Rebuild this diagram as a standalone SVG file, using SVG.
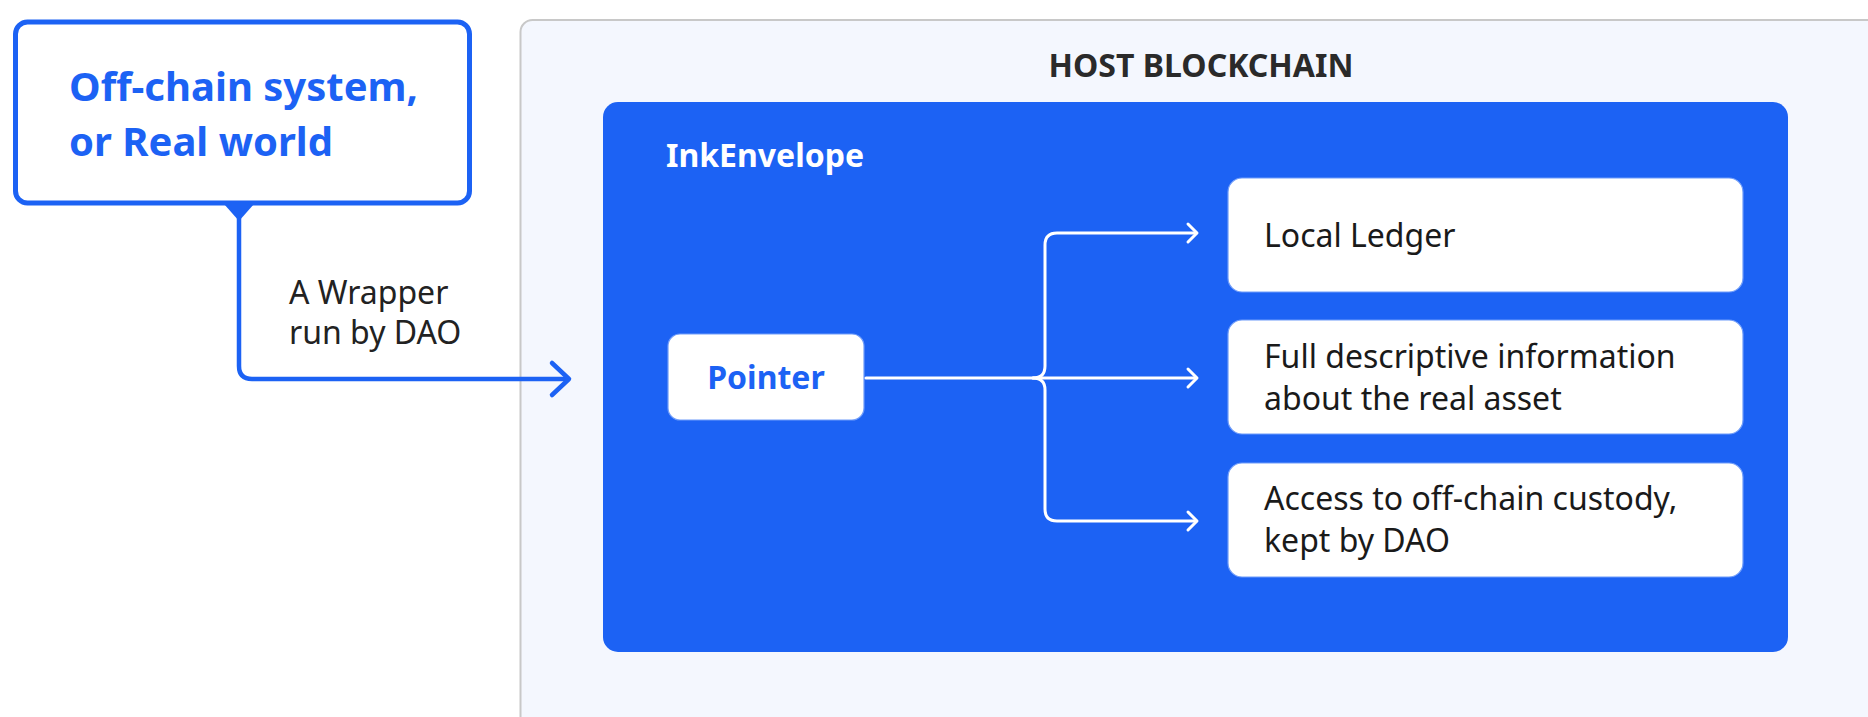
<svg xmlns="http://www.w3.org/2000/svg" width="1868" height="717" viewBox="0 0 1868 717">
  <defs>
    <style>
      .t { font-family: "Noto Sans", "Open Sans", sans-serif; }
      .title { font-size: 40px; font-weight: 700; fill: #1c62f4; }
      .label { font-size: 32px; fill: #222222; }
      .head { font-size: 32px; font-weight: 700; fill: #2a2a2a; }
      .env { font-size: 32px; font-weight: 700; fill: #ffffff; }
      .ptr { font-size: 32px; font-weight: 700; fill: #1c62f4; }
      .item { font-size: 32px; fill: #1a1a1a; }
      .card { fill: #ffffff; stroke: #6f9cf9; stroke-width: 1.2; }
      .link-main { fill: none; stroke: #1c62f4; stroke-width: 4.5; stroke-linecap: round; stroke-linejoin: round; }
      .link-inner { fill: none; stroke: #ffffff; stroke-width: 3; stroke-linecap: round; stroke-linejoin: round; }
    </style>
  </defs>

  <rect width="1868" height="717" fill="#ffffff"/>

  <!-- Host blockchain container (runs off the right and bottom edges) -->
  <g id="host-blockchain">
    <rect x="520.5" y="20" width="1400" height="740" rx="12" fill="#f4f7fe" stroke="#c8c8c8" stroke-width="2"/>
    <text class="t head" x="1201" y="77" text-anchor="middle">HOST BLOCKCHAIN</text>
  </g>

  <!-- InkEnvelope panel -->
  <g id="ink-envelope">
    <rect x="603" y="102" width="1185" height="550" rx="15" fill="#1c62f4"/>
    <text class="t env" x="666" y="167">InkEnvelope</text>
  </g>

  <!-- Off-chain source -->
  <g id="off-chain">
    <rect x="15.5" y="22" width="454" height="181" rx="12" fill="#ffffff" stroke="#1c62f4" stroke-width="5"/>
    <text class="t title" x="69" y="101">Off-chain system,</text>
    <text class="t title" x="69" y="156">or Real world</text>
  </g>

  <g id="pointer">
    <rect class="card" x="668" y="334" width="196" height="86" rx="12"/>
    <text class="t ptr" x="766" y="389" text-anchor="middle">Pointer</text>
  </g>

  <g id="local-ledger">
    <rect class="card" x="1228" y="178" width="515" height="114" rx="14"/>
    <text class="t item" x="1264" y="247">Local Ledger</text>
  </g>

  <g id="descriptive-info">
    <rect class="card" x="1228" y="320" width="515" height="114" rx="14"/>
    <text class="t item" x="1264" y="368">Full descriptive information</text>
    <text class="t item" x="1264" y="410">about the real asset</text>
  </g>

  <g id="custody-access">
    <rect class="card" x="1228" y="463" width="515" height="114" rx="14"/>
    <text class="t item" x="1264" y="510">Access to off-chain custody,</text>
    <text class="t item" x="1264" y="552">kept by DAO</text>
  </g>

  <!-- Connectors -->
  <g id="connectors">
    <!-- wrapper link into the envelope -->
    <polygon points="224,204 254,204 239,221" fill="#1c62f4"/>
    <path class="link-main" d="M239,218 V366 Q239,379 252,379 H568"/>
    <path class="link-main" d="M552,363 L569,379 L552,395"/>
    <text class="t label" x="289" y="304">A Wrapper</text>
    <text class="t label" x="289" y="344">run by DAO</text>

    <!-- pointer fan-out -->
    <path class="link-inner" d="M866,378 H1196"/>
    <path class="link-inner" d="M1033,378 Q1045,378 1045,366 V245 Q1045,233 1057,233 H1196"/>
    <path class="link-inner" d="M1033,378 Q1045,378 1045,390 V509 Q1045,521 1057,521 H1196"/>
    <path class="link-inner" d="M1188,224 L1197,233 L1188,242"/>
    <path class="link-inner" d="M1188,369 L1197,378 L1188,387"/>
    <path class="link-inner" d="M1188,512 L1197,521 L1188,530"/>
  </g>
</svg>
